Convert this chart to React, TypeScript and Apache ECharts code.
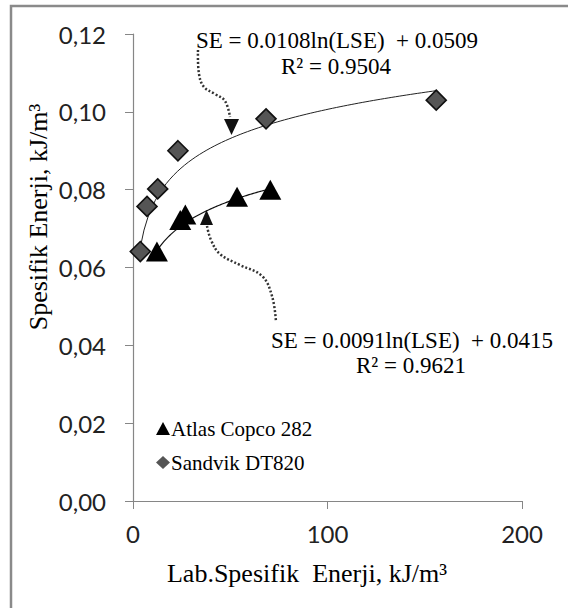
import React, { useEffect, useRef } from "react";
import * as echarts from "echarts";

// Atlas Copco 282: lab specific energy vs. field specific energy
const atlasLSE = [12.3, 24.3, 26.9, 53.5, 70.6];
const atlasSE = [0.0641, 0.0722, 0.0736, 0.0782, 0.08];
// Sandvik DT820
const sandvikLSE = [3.75, 7.2, 12.7, 23.1, 68.4, 155.9];
const sandvikSE = [0.0641, 0.0757, 0.0802, 0.09, 0.0982, 0.103];

// Logarithmic trend lines: SE = a ln(LSE) + b
const atlasFit = [0.0091, 0.0415];
const sandvikFit = [0.0108, 0.0509];
const atlasR2 = "0.9621";
const sandvikR2 = "0.9504";

const xTicks = [0, 100, 200];
const yTicks = [0, 0.02, 0.04, 0.06, 0.08, 0.1, 0.12];

const SERIF = "'Liberation Serif', 'Times New Roman', serif";
const SANS = "Lato, 'Open Sans', sans-serif";

function trend(xs: number[], fit: number[]) {
  const lo = Math.min(...xs);
  const hi = Math.max(...xs);
  const pts: number[][] = [];
  const n = 80;
  for (let i = 0; i <= n; i++) {
    const x = lo + ((hi - lo) * i) / n;
    pts.push([x, fit[0] * Math.log(x) + fit[1]]);
  }
  return pts;
}

export default function App() {
  const ref = useRef<HTMLDivElement>(null);

  useEffect(() => {
    if (!ref.current) return;
    const chart = echarts.init(ref.current, undefined, { renderer: "svg" });
    const axisColor = "#868686";

    chart.setOption({
      animation: false,
      backgroundColor: "#fff",
      grid: { left: 133, right: 46, top: 34, bottom: 107 },
      xAxis: {
        type: "value",
        min: xTicks[0],
        max: xTicks[xTicks.length - 1],
        interval: 100,
        splitLine: { show: false },
        axisLine: { lineStyle: { color: axisColor, width: 1.2 } },
        axisTick: { show: true, length: 8, lineStyle: { color: axisColor } },
        axisLabel: { fontFamily: SANS, fontSize: 24, color: "#222", margin: 20 },
      },
      yAxis: {
        type: "value",
        min: yTicks[0],
        max: yTicks[yTicks.length - 1],
        interval: 0.02,
        splitLine: { show: false },
        axisLine: { show: true, lineStyle: { color: axisColor, width: 1.2 } },
        axisTick: { show: true, length: 8, lineStyle: { color: axisColor } },
        axisLabel: {
          fontFamily: SANS,
          fontSize: 24,
          color: "#222",
          margin: 27,
          formatter: (v: number) => v.toFixed(2).replace(".", ","),
        },
      },
      legend: {
        data: ["Atlas Copco 282", "Sandvik DT820"],
        orient: "vertical",
        left: 151,
        top: 413,
        itemWidth: 14,
        itemHeight: 13,
        itemGap: 13,
        itemStyle: { borderWidth: 0 },
        textStyle: { fontFamily: SERIF, fontSize: 21, color: "#000", padding: [0, 0, 0, -4] },
      },
      series: [
        {
          name: "Sandvik trend",
          type: "line",
          data: trend(sandvikLSE, sandvikFit),
          showSymbol: false,
          lineStyle: { color: "#222", width: 1 },
          silent: true,
          z: 1,
        },
        {
          name: "Atlas trend",
          type: "line",
          data: trend(atlasLSE, atlasFit),
          showSymbol: false,
          lineStyle: { color: "#111", width: 1.2 },
          silent: true,
          z: 1,
        },
        {
          name: "Sandvik DT820",
          type: "scatter",
          symbol: "diamond",
          symbolSize: 20,
          itemStyle: { color: "#555555", borderColor: "#111", borderWidth: 1.6, opacity: 1 },
          data: sandvikLSE.map((x, i) => [x, sandvikSE[i]]),
          z: 3,
        },
        {
          name: "Atlas Copco 282",
          type: "scatter",
          symbol: "triangle",
          symbolSize: [22, 20],
          itemStyle: { color: "#000", opacity: 1 },
          data: atlasLSE.map((x, i) => [x, atlasSE[i]]),
          z: 3,
        },
      ],
    });

    const dotted = { stroke: "#333", lineWidth: 2.5, lineDash: [2, 2], fill: null };
    const serifText = (x: number, y: number, text: string, size: number, extra: any = {}) => ({
      type: "text",
      x,
      y,
      ...extra,
      style: {
        text,
        font: `${size}px ${SERIF}`,
        fill: "#000",
        align: "center",
        verticalAlign: "middle",
      },
    });

    chart.setOption({
      graphic: [
        {
          type: "rect",
          shape: { x: 11, y: 6, width: 700, height: 700 },
          style: { fill: null, stroke: "#8a8a8a", lineWidth: 2.5 },
          silent: true,
        },
        serifText(38, 217, "Spesifik Enerji, kJ/m³", 26, { rotation: Math.PI / 2 }),
        serifText(307, 573, "Lab.Spesifik  Enerji, kJ/m³", 26),
        serifText(337, 40, `SE = ${sandvikFit[0]}ln(LSE)  + ${sandvikFit[1]}`, 23),
        serifText(336, 66, `R² = ${sandvikR2}`, 23),
        serifText(412, 340, `SE = ${atlasFit[0]}ln(LSE)  + ${atlasFit[1]}`, 23),
        serifText(411, 365, `R² = ${atlasR2}`, 23),
        {
          type: "polyline",
          shape: {
            points: [
              [198, 50],
              [199, 74],
              [204, 87],
              [215, 94],
              [225, 101],
              [230, 117],
            ],
            smooth: 0.4,
          },
          style: dotted,
          silent: true,
        },
        {
          type: "polygon",
          shape: { points: [[224, 119], [239, 119], [231.5, 135]] },
          style: { fill: "#111" },
          silent: true,
        },
        {
          type: "polyline",
          shape: {
            points: [
              [207, 226],
              [211, 240],
              [220, 254],
              [240, 265],
              [262, 276],
              [272, 296],
              [276, 322],
            ],
            smooth: 0.4,
          },
          style: dotted,
          silent: true,
        },
        {
          type: "polygon",
          shape: { points: [[200, 225], [213, 225], [206.5, 210]] },
          style: { fill: "#111" },
          silent: true,
        },
      ],
    });

    return () => chart.dispose();
  }, []);

  return (
    <div
      ref={ref}
      style={{ position: "fixed", left: 0, top: 0, width: 568, height: 608, background: "#fff" }}
    />
  );
}
